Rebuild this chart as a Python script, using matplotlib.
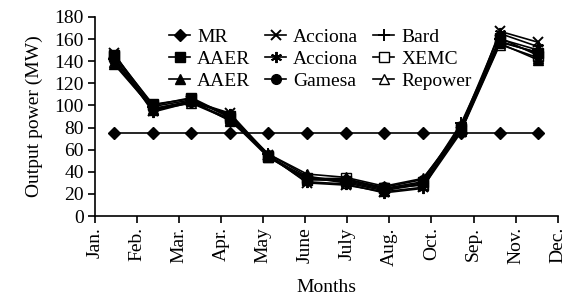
import matplotlib
matplotlib.use("Agg")
import matplotlib.pyplot as plt
import numpy as np

plt.rcParams['font.family'] = ['Liberation Serif', 'DejaVu Serif']

months = ["Jan.", "Feb.", "Mar.", "Apr.", "May", "June", "July", "Aug.", "Oct.", "Sep.", "Nov.", "Dec."]

mr        = [75, 75, 75, 75, 75, 75, 75, 75, 75, 75, 75, 75]
aaer1     = [146, 100, 107, 90, 53, 33, 32, 25, 31, 80, 158, 147]
aaer2     = [137, 97, 104, 86, 56, 38, 35, 27, 34, 78, 156, 141]
acciona1  = [147, 95, 104, 93, 55, 30, 28, 22, 26, 76, 167, 157]
acciona2  = [144, 94, 103, 92, 54, 31, 29, 21, 25, 82, 165, 153]
gamesa    = [141, 97, 103, 88, 55, 33, 33, 26, 33, 81, 157, 148]
bard      = [142, 99, 105, 91, 56, 36, 31, 24, 30, 84, 160, 150]
xemc      = [145, 101, 106, 89, 54, 34, 34, 25, 28, 79, 161, 145]
repower   = [139, 96, 102, 87, 53, 35, 30, 23, 29, 77, 155, 143]

series = [
    ("MR", mr, dict(marker='D', mfc='black', ms=6), 5),
    ("AAER", aaer1, dict(marker='s', mfc='black', ms=7), 5),
    ("AAER", aaer2, dict(marker='^', mfc='black', ms=7), 5),
    ("Acciona", acciona1, dict(marker='x', mfc='black', ms=7, mew=1.4), 5),
    ("Acciona", acciona2, dict(marker=(6, 2, 0), mfc='black', ms=8, mew=1.4), 5),
    ("Gamesa", gamesa, dict(marker='o', mfc='black', ms=7), 5),
    ("Bard", bard, dict(marker='+', mfc='black', ms=8, mew=1.4), 5),
    ("XEMC", xemc, dict(marker='s', mfc='white', ms=7), 3),
    ("Repower", repower, dict(marker='^', mfc='white', ms=7), 3),
]

fig = plt.figure(figsize=(5.69, 2.96), dpi=100)
ax = fig.add_axes([0.167, 0.27, 0.813, 0.673])

x = np.arange(len(months)) + 0.5
for label, vals, st, z in series:
    ax.plot(x, vals, color='black', lw=1.2, mec='black', label=label, zorder=z, **st)

ax.set_xlim(0, 12)
ax.set_ylim(0, 180)
ax.set_yticks(np.arange(0, 181, 20))
ax.set_xticks(np.linspace(0, 12, 12))
ax.set_xticklabels(months, rotation=90)
ax.tick_params(axis='both', labelsize=14, length=5, width=1.2, direction='out', colors='black', pad=3)
for s in ['top', 'right']:
    ax.spines[s].set_visible(False)
for s in ['left', 'bottom']:
    ax.spines[s].set_linewidth(1.2)
ax.set_ylabel("Output power (MW)", fontsize=14, labelpad=8)
ax.set_xlabel("Months", fontsize=14, labelpad=10)

leg = fig.legend(ncol=3, loc='upper left', bbox_to_anchor=(0.297, 0.905), frameon=False,
                 fontsize=14, handlelength=1.1, handletextpad=0.35, columnspacing=0.75,
                 labelspacing=0.22, borderpad=0.0, borderaxespad=0.0)

fig.savefig("out.png", dpi=100)
